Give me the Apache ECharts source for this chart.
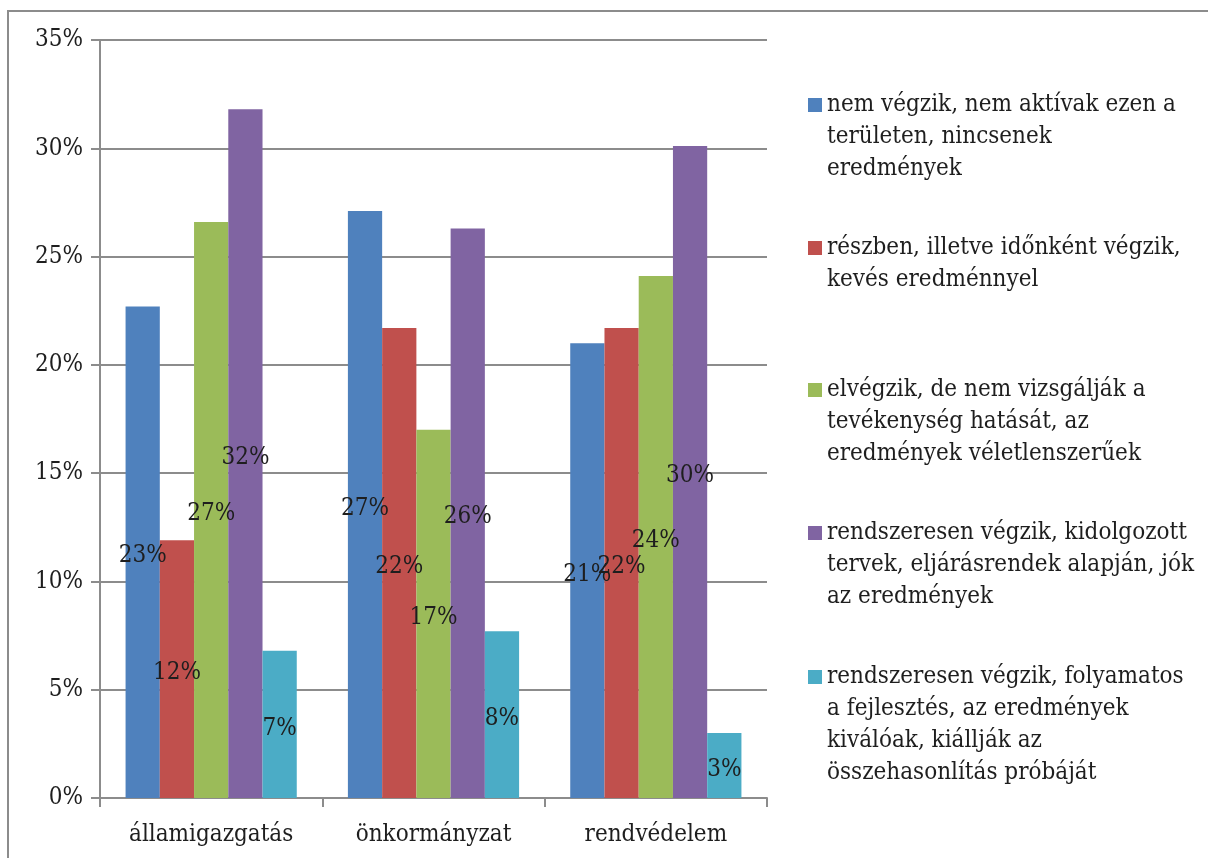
<!DOCTYPE html>
<html>
<head>
<meta charset="utf-8">
<script src="https://cdn.jsdelivr.net/npm/echarts@6/dist/echarts.min.js"></script>
<style>
  html, body { margin: 0; padding: 0; background: #fff; }
  #chart { width: 1208px; height: 858px; }
</style>
</head>
<body>
<div id="chart"></div>
<script>
// Sectors on the horizontal axis
const categories = ['államigazgatás', 'önkormányzat', 'rendvédelem'];

// Answer options (legend text, with line breaks as shown)
const seriesNames = [
  'nem végzik, nem aktívak ezen a\nterületen, nincsenek\neredmények',
  'részben, illetve időnként végzik,\nkevés eredménnyel',
  'elvégzik, de nem vizsgálják a\ntevékenység hatását, az\neredmények véletlenszerűek',
  'rendszeresen végzik, kidolgozott\ntervek, eljárásrendek alapján, jók\naz eredmények',
  'rendszeresen végzik, folyamatos\na fejlesztés, az eredmények\nkiválóak, kiállják az\nösszehasonlítás próbáját'
];

// Share of respondents (%) per sector, one array per answer option
const nemVegzik      = [22.7, 27.1, 21.0];
const reszben        = [11.9, 21.7, 21.7];
const elvegzik       = [26.6, 17.0, 24.1];
const rendszeresJo   = [31.8, 26.3, 30.1];
const rendszeresKivalo = [6.8, 7.7, 3.0];

// Y axis range and step (%)
const yMin = 0, yMax = 35, yStep = 5;

const seriesValues = [nemVegzik, reszben, elvegzik, rendszeresJo, rendszeresKivalo];
const colors = ['#4F81BD', '#C0504D', '#9BBB59', '#8064A2', '#4BACC6'];

const FONT = "'DejaVu Serif Condensed', 'DejaVu Serif', serif";
const FONT_SIZE = 24;
const TEXT_COLOR = '#1e1e1e';
const GRID_COLOR = '#8c8c8c';

// Legend blocks: vertical centre of each entry's first line
const legendCenters = [105, 248, 390, 533, 677];
const LINE_H = 32;

// One legend per entry so the square sits beside the first text line:
// blank lines are prepended so the block's middle falls on that line.
const legends = seriesNames.map((name, i) => {
  const n = name.split('\n').length;
  return {
    data: [name],
    orient: 'vertical',
    left: 808,
    top: legendCenters[i] - (2 * n - 1) * LINE_H / 2,
    padding: 0,
    itemWidth: 14,
    itemHeight: 14,
    icon: 'rect',
    selectedMode: false,
    formatter: t => '\n'.repeat(t.split('\n').length - 1) + t,
    textStyle: {
      fontFamily: FONT,
      fontSize: FONT_SIZE,
      color: TEXT_COLOR,
      lineHeight: LINE_H
    }
  };
});

const chart = echarts.init(document.getElementById('chart'), null, { renderer: 'canvas' });

chart.setOption({
  animation: false,
  backgroundColor: '#fff',
  color: colors,
  textStyle: { fontFamily: FONT },
  graphic: [{
    type: 'rect',
    silent: true,
    z: -1,
    shape: { x: 8, y: 11, width: 1400, height: 1000 },
    style: { fill: 'none', stroke: '#8c8c8c', lineWidth: 2 }
  }],
  grid: { left: 100, right: 441, top: 40, bottom: 60, containLabel: false },
  legend: legends,
  xAxis: {
    type: 'category',
    data: categories,
    axisLine: { lineStyle: { color: GRID_COLOR, width: 2 } },
    axisTick: { show: true, length: 9, alignWithLabel: false, lineStyle: { color: GRID_COLOR, width: 2 } },
    axisLabel: { fontFamily: FONT, fontSize: FONT_SIZE, color: TEXT_COLOR, margin: 25 }
  },
  yAxis: {
    type: 'value',
    min: yMin,
    max: yMax,
    interval: yStep,
    axisLine: { show: true, lineStyle: { color: GRID_COLOR, width: 2 } },
    axisTick: { show: true, length: 9, lineStyle: { color: GRID_COLOR, width: 2 } },
    splitLine: { show: true, lineStyle: { color: GRID_COLOR, width: 2 } },
    axisLabel: {
      fontFamily: FONT, fontSize: FONT_SIZE, color: TEXT_COLOR, margin: 17,
      formatter: v => v + '%'
    }
  },
  series: seriesValues.map((vals, i) => ({
    name: seriesNames[i],
    type: 'bar',
    data: vals,
    barGap: '0%',
    barCategoryGap: '23%',
    itemStyle: { color: colors[i] },
    label: {
      show: true,
      position: 'inside',
      offset: [0, 4],
      fontFamily: FONT,
      fontSize: FONT_SIZE,
      color: TEXT_COLOR,
      textBorderWidth: 0,
      formatter: p => Math.round(p.value) + '%'
    }
  }))
});
</script>
</body>
</html>
